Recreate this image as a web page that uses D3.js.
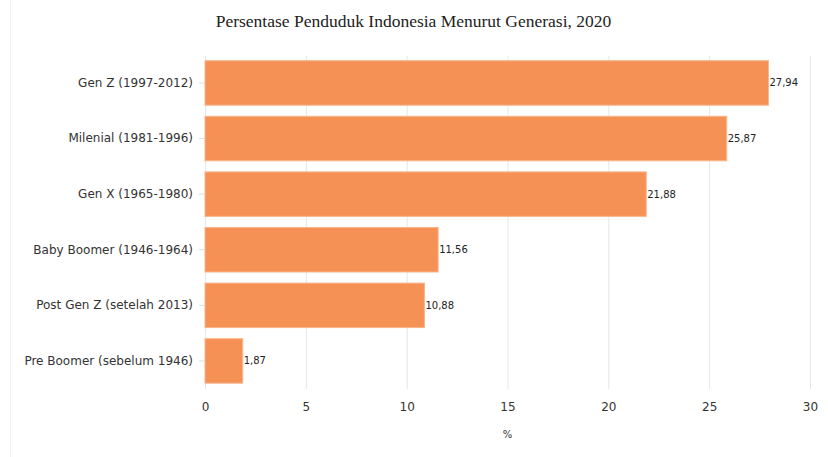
<!DOCTYPE html>
<html>
<head>
<meta charset="utf-8">
<script src="https://cdn.jsdelivr.net/npm/d3@7.9.0/dist/d3.min.js"></script>
<style>
  body { margin: 0; background: #fff; }
  svg text { font-family: "DejaVu Sans", sans-serif; }
</style>
</head>
<body>
<svg id="chart" width="828" height="457"></svg>
<script>
const categories = [
  'Gen Z (1997-2012)',
  'Milenial (1981-1996)',
  'Gen X (1965-1980)',
  'Baby Boomer (1946-1964)',
  'Post Gen Z (setelah 2013)',
  'Pre Boomer (sebelum 1946)'
];
const values = [27.94, 25.87, 21.88, 11.56, 10.88, 1.87];
const xTicks = [0, 5, 10, 15, 20, 25, 30];

const width = 828, height = 457;
const plot = { left: 205, right: 810, top: 56, bottom: 389 };

const svg = d3.select('#chart');

// faint card edge on the left
svg.append('line')
  .attr('x1', 10.5).attr('x2', 10.5)
  .attr('y1', 0).attr('y2', height)
  .attr('stroke', '#f3f3f3');

const x = d3.scaleLinear().domain([0, 30]).range([plot.left, plot.right]);
const y = d3.scaleBand().domain(categories).range([49.6, 394.3]).padding(0.2);

// gridlines
svg.append('g')
  .selectAll('line')
  .data(xTicks)
  .join('line')
  .attr('x1', d => x(d) + 0.5).attr('x2', d => x(d) + 0.5)
  .attr('y1', plot.top).attr('y2', plot.bottom)
  .attr('stroke', '#e6e6e6');

// bars
svg.append('g')
  .selectAll('rect')
  .data(values)
  .join('rect')
  .attr('x', x(0))
  .attr('y', (d, i) => y(categories[i]))
  .attr('width', d => x(d) - x(0))
  .attr('height', y.bandwidth())
  .attr('fill', '#f58b4c')
  .attr('fill-opacity', 0.95)
  .attr('stroke', '#f8b48a')
  .attr('stroke-width', 1);

// value labels
svg.append('g')
  .selectAll('text')
  .data(values)
  .join('text')
  .attr('x', d => x(d) + 1)
  .attr('y', (d, i) => y(categories[i]) + y.bandwidth() / 2)
  .attr('dy', '0.35em')
  .attr('font-size', 10)
  .attr('fill', '#222')
  .text(d => d.toFixed(2).replace('.', ','));

// y axis
const yAxis = svg.append('g')
  .attr('transform', `translate(${plot.left},0)`)
  .call(d3.axisLeft(y).tickSize(6).tickPadding(6));
yAxis.select('.domain').remove();
yAxis.selectAll('.tick line').attr('stroke', '#ddd');
yAxis.selectAll('.tick text').attr('font-size', 12).attr('fill', '#333')
  .attr('font-family', '"DejaVu Sans", sans-serif');

// x axis
const xAxis = svg.append('g')
  .attr('transform', `translate(0,${plot.bottom})`)
  .call(d3.axisBottom(x).tickValues(xTicks).tickSize(0).tickPadding(13));
xAxis.select('.domain').remove();
xAxis.selectAll('.tick text').attr('font-size', 12).attr('fill', '#333')
  .attr('font-family', '"DejaVu Sans", sans-serif');

// axis title
svg.append('text')
  .attr('x', (x(0) + x(30)) / 2)
  .attr('y', 438)
  .attr('text-anchor', 'middle')
  .attr('font-size', 10)
  .attr('fill', '#333')
  .text('%');

// chart title
svg.append('text')
  .attr('x', 413.5)
  .attr('y', 27)
  .attr('text-anchor', 'middle')
  .attr('font-size', 17.5)
  .attr('fill', '#222')
  .style('font-family', '"Liberation Serif", "Times New Roman", serif')
  .text('Persentase Penduduk Indonesia Menurut Generasi, 2020');
</script>
</body>
</html>
